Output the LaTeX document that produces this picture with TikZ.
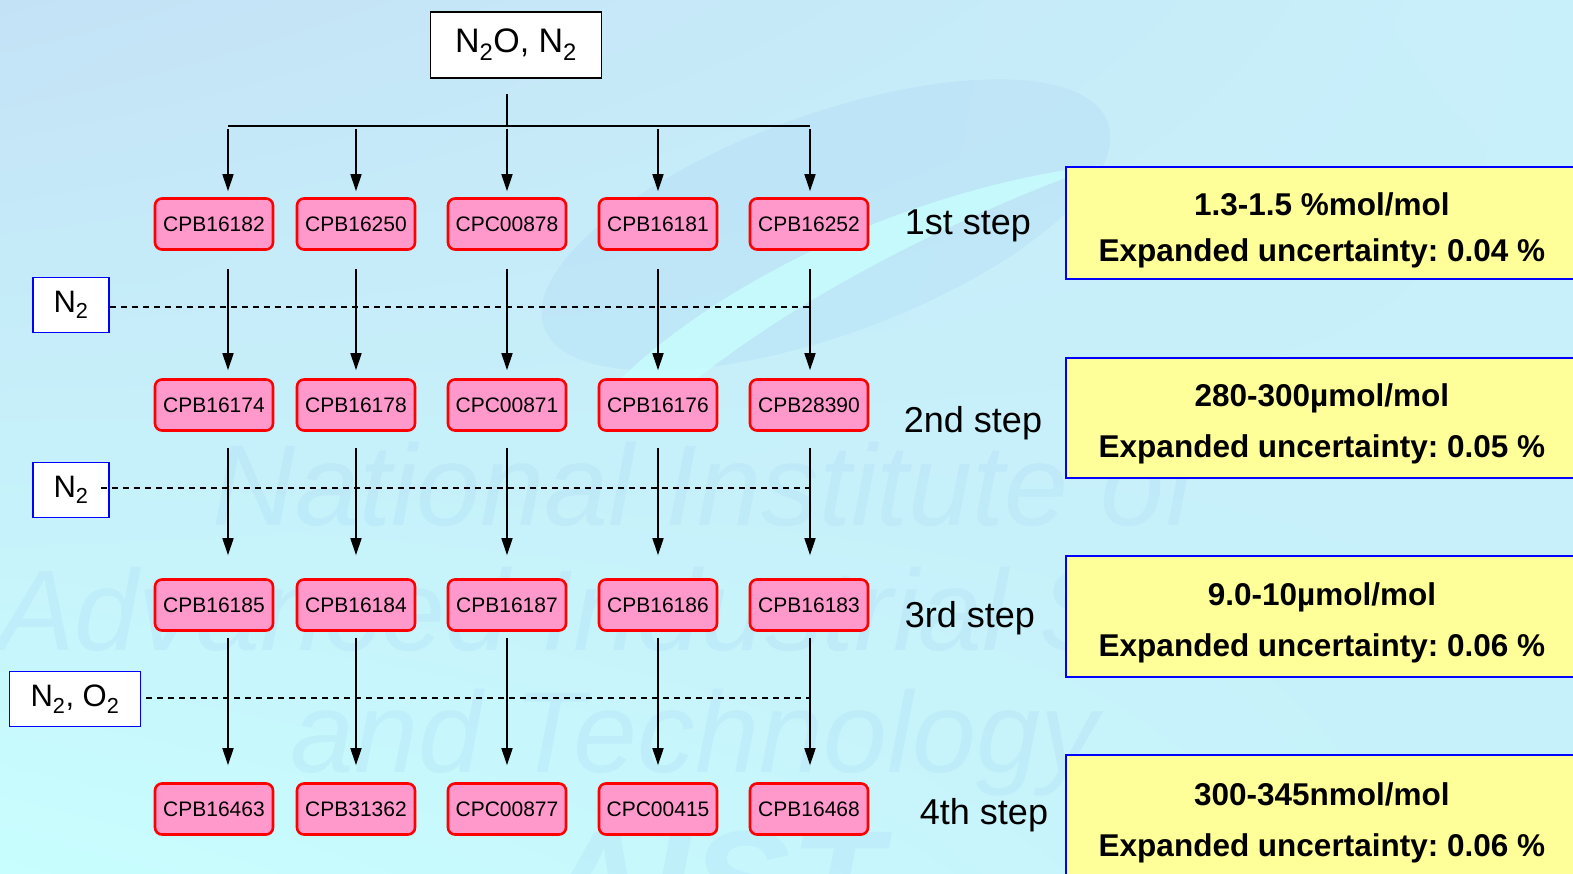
\documentclass[tikz,border=0pt]{standalone}
\usepackage{fontspec}
\setmainfont{Liberation Sans}
\frenchspacing
\usetikzlibrary{arrows.meta,calc,shadings}
\definecolor{cylpink}{HTML}{FF99CC}
\definecolor{infoyellow}{HTML}{FFFF99}
\definecolor{markblue}{HTML}{5A8FE0}
\definecolor{bgul}{HTML}{C4E2F6}
\definecolor{bgur}{HTML}{C8F0FA}
\definecolor{bgll}{HTML}{C8FEFE}
\definecolor{bglr}{HTML}{C6F0FA}
\tikzset{
  cyl/.style={draw=red,line width=2.6pt,fill=cylpink,rounded corners=7pt,
    minimum width=118pt,minimum height=51pt,inner sep=0pt,
    font=\fontsize{21}{24}\selectfont},
  gasbox/.style={draw=blue,line width=1.8pt,fill=white,minimum height=55pt,
    inner sep=0pt,font=\fontsize{31}{34}\selectfont},
  infobox/.style={draw=blue,line width=1.8pt,fill=infoyellow,anchor=north west,
    minimum width=512pt,inner sep=0pt},
  infotext/.style={align=center,inner sep=0pt,font=\bfseries\fontsize{31.5}{51}\selectfont},
  steplabel/.style={font=\fontsize{36}{38}\selectfont},
  flow/.style={line width=1.6pt,-{Triangle[length=17pt,width=11pt]}},
  purge/.style={line width=1.3pt,dash pattern=on 6pt off 5pt},
  watermark/.style={text=markblue,opacity=0.07,inner sep=0pt,anchor=base west,
    font=\itshape\fontsize{115}{120}\selectfont}
}
\begin{document}
\begin{tikzpicture}[x=1pt,y=-1pt]
  \useasboundingbox (0,0) rectangle (1573,874);
  \shade[upper left=bgul,upper right=bgur,lower left=bgll,lower right=bglr]
        (0,0) rectangle (1573,874);

  % background watermark
  \fill[markblue,opacity=0.07,rotate around={20:(826,225)}]
       (826,225) ellipse [x radius=300,y radius=110];
  \fill[bgll,opacity=0.8] (600,400) .. controls (700,290) and (900,190) .. (1100,165)
       .. controls (920,230) and (760,320) .. (660,410) -- cycle;
  \node[watermark] at (212,525) {National Institute of};
  \node[watermark] at (-2,650) {Advanced Industrial Science};
  \node[watermark] at (290,772) {and Technology};
  \node[watermark,font=\bfseries\itshape\fontsize{150}{150}\selectfont] at (540,935) {AIST};

  % columns of arrows
  \foreach \x [count=\i] in {228,356,507,658,810}
    \coordinate (col\i) at (\x,0);

  % source gas
  \node[draw=black,line width=1.8pt,fill=white,minimum width=171pt,minimum height=66pt,
        inner sep=0pt,font=\fontsize{34}{36}\selectfont] (src) at (516,45)
        {N\textsubscript{2}O, N\textsubscript{2}};

  % cylinders
  \foreach \r/\y/\names in {1/224/{CPB16182,CPB16250,CPC00878,CPB16181,CPB16252},
                            2/405/{CPB16174,CPB16178,CPC00871,CPB16176,CPB28390},
                            3/605/{CPB16185,CPB16184,CPB16187,CPB16186,CPB16183},
                            4/809/{CPB16463,CPB31362,CPC00877,CPC00415,CPB16468}}
    \foreach \n [count=\i] in \names {
      \pgfmathsetmacro{\cx}{{214,356,507,658,809}[\i-1]}
      \node[cyl] (r\r-\i) at (\cx,\y) {\n};
    }

  % diluent gases
  \node[gasbox,minimum width=76pt] (dil1) at (71,305) {N\textsubscript{2}};
  \node[gasbox,minimum width=76pt] (dil2) at (71,490) {N\textsubscript{2}};
  \node[gasbox,minimum width=131pt] (dil3) at (75,699) {N\textsubscript{2}, O\textsubscript{2}};
  \draw[purge] (dil1.east) ++(0,2) -- ++(701,0);
  \draw[purge] ([xshift=-9pt,yshift=2pt]dil2.east) -- ++(711,0);
  \draw[purge] ([xshift=5pt,yshift=1pt]dil3.east) -- ++(665,0);

  % first split
  \coordinate (hub) at (507,126);
  \draw[line width=1.6pt] (hub -| col1) -- (hub -| col5);
  \draw[line width=1.6pt,shorten <=15pt] (src.south -| col3) -- (hub);
  \foreach \i in {1,...,5}
    \draw[flow,shorten >=6pt] ([yshift=-3pt]hub -| col\i) -- (r1-\i.north -| col\i);

  % dilution steps
  \foreach \r/\s/\e [evaluate=\r as \nx using int(\r+1)] in {1/18/8,2/16/23,3/6/17}
    \foreach \i in {1,...,5}
      \draw[flow,shorten <=\s pt,shorten >=\e pt] (r\r-\i.south -| col\i) -- (r\nx-\i.north -| col\i);

  % step labels
  \node[steplabel] (step1) at (968,226) {1st step};
  \node[steplabel] (step2) at (973,423) {2nd step};
  \node[steplabel] (step3) at (970,618) {3rd step};
  \node[steplabel] (step4) at (984,815) {4th step};

  % concentrations
  \node[infobox,minimum height=112pt] (info1) at (1065,166) {};
  \node[infobox,minimum height=120pt] (info2) at (1065,357) {};
  \node[infobox,minimum height=121pt] (info3) at (1065,555) {};
  \node[infobox,minimum height=124pt] (info4) at (1065,754) {};
  \node[infotext] at ([yshift=-7pt]info1.center)
       {1.3-1.5 \%mol/mol\\[-5pt] Expanded uncertainty: 0.04 \%};
  \node[infotext] at ([yshift=-6pt]info2.center)
       {280-300\textmu mol/mol\\ Expanded uncertainty: 0.05 \%};
  \node[infotext] at ([yshift=-6pt]info3.center)
       {9.0-10\textmu mol/mol\\ Expanded uncertainty: 0.06 \%};
  \node[infotext] at ([yshift=-6pt]info4.center)
       {300-345nmol/mol\\ Expanded uncertainty: 0.06 \%};
\end{tikzpicture}
\end{document}
